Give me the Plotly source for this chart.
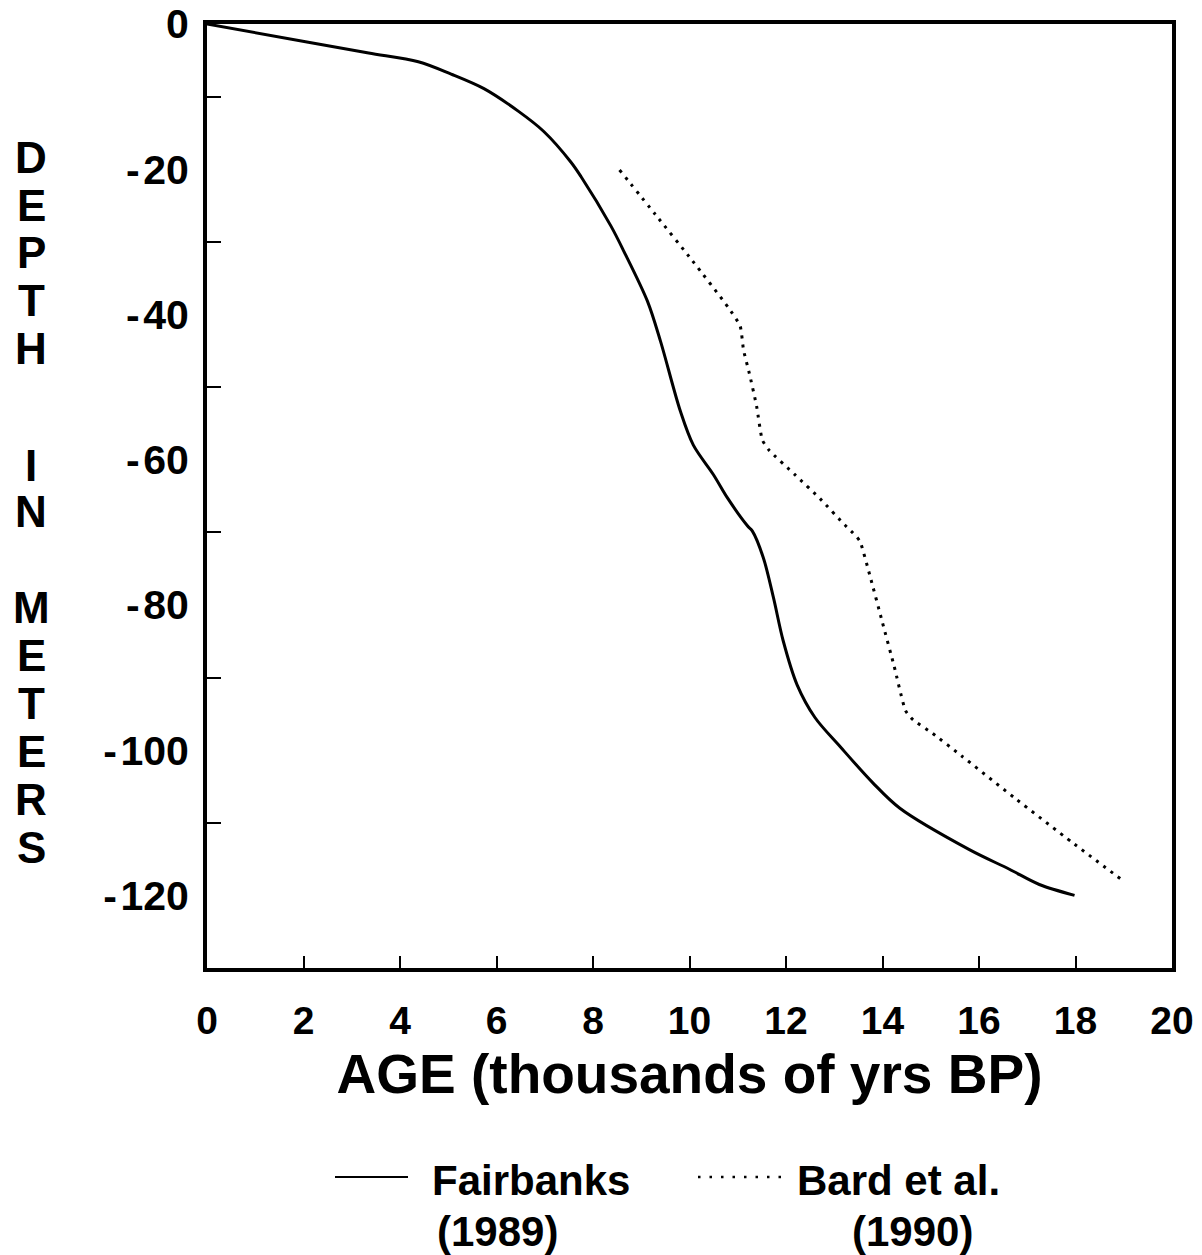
import plotly.graph_objects as go

# ---- data ----
fair_age = [0, 2.1, 3.35, 4.38, 5.06, 5.74, 6.45, 6.98, 7.54, 7.75, 8.37, 8.64, 9.13, 9.40,
            9.81, 10.08, 10.50, 10.79, 11.20, 11.30, 11.53, 11.74, 11.94, 12.23, 12.6,
            13.12, 13.8, 14.36, 15.8, 16.63, 17.25, 17.98]
fair_depth = [0, -2.5, -4.0, -5.2, -6.9, -8.9, -12.0, -14.8, -19.0, -21.0, -27.8, -31.3, -38.2,
              -43.7, -53.3, -58.0, -62.1, -65.3, -69.1, -69.8, -73.5, -79.0, -84.9, -91.0,
              -95.5, -99.5, -104.5, -108.0, -113.7, -116.4, -118.5, -120.0]

bard_age = [8.55, 9.3, 10.06, 10.8, 11.05, 11.12, 11.24, 11.39, 11.51, 11.65, 12.19, 12.71,
            13.22, 13.39, 13.53, 13.74, 13.99, 14.24, 14.48, 14.63, 15.04, 15.64, 16.78,
            17.93, 18.95]
bard_depth = [-20.1, -26.3, -32.6, -39.0, -41.6, -44.9, -48.1, -52.6, -57.3, -58.7, -62.1,
              -65.4, -69.0, -70.1, -71.2, -76.0, -82.2, -88.4, -94.6, -95.8, -97.7, -100.8,
              -106.8, -112.7, -117.8]

x_ticks = [0, 2, 4, 6, 8, 10, 12, 14, 16, 18, 20]
y_label_vals = [0, -20, -40, -60, -80, -100, -120]
y_label_text = ["0", "-\u200a20", "-\u200a40", "-\u200a60", "-\u200a80", "-\u200a100", "-\u200a120"]
y_minor_vals = [-10, -30, -50, -70, -90, -110]

x_title = "AGE (thousands of yrs BP)"
y_title_letters = ["D", "E", "P", "T", "H", "I", "N", "M", "E", "T", "E", "R", "S"]
legend_names = [("Fairbanks", "(1989)"), ("Bard et al.", "(1990)")]

FONT = "Liberation Sans"
W, H = 1202, 1255
L, R, T, B = 207, 30, 24, 287
PW, PH = W - L - R, H - T - B


def px_x(px):
    return (px - L) / PW


def px_y(py):
    return (H - B - py) / PH


fig = go.Figure()
fig.add_trace(go.Scatter(x=fair_age, y=fair_depth, mode="lines",
                         line=dict(color="black", width=3, shape="spline", smoothing=0.9),
                         showlegend=False, hoverinfo="skip"))
fig.add_trace(go.Scatter(x=bard_age, y=bard_depth, mode="lines",
                         line=dict(color="black", width=3, dash="3px,6px",
                                   shape="spline", smoothing=0.5),
                         showlegend=False, hoverinfo="skip"))

fig.update_layout(
    width=W, height=H,
    margin=dict(l=L, r=R, t=T, b=B, autoexpand=False),
    paper_bgcolor="white", plot_bgcolor="white",
    font=dict(family=FONT, color="black"),
    showlegend=False,
    xaxis=dict(
        range=[0, 20], tickvals=x_ticks, ticktext=[str(v) for v in x_ticks],
        ticks="inside", ticklen=12, tickwidth=2, tickcolor="black",
        showline=True, linewidth=4, linecolor="black", mirror=True,
        showgrid=False, zeroline=False, automargin=False,
        tickfont=dict(family=FONT, size=39, weight="bold"),
        ticklabelstandoff=15, ticklabeloverflow="allow",
        title=dict(text=x_title, font=dict(family=FONT, size=55, weight="bold"), standoff=15),
    ),
    yaxis=dict(
        range=[-130, 0], tickvals=y_label_vals, ticktext=y_label_text,
        ticks="", showline=True, linewidth=4, linecolor="black", mirror=True,
        showgrid=False, zeroline=False, automargin=False,
        tickfont=dict(family=FONT, size=41, weight="bold"),
        ticklabelstandoff=6, ticklabeloverflow="allow",
        minor=dict(tickvals=y_minor_vals, ticks="inside", ticklen=14, tickwidth=1.5,
                   tickcolor="black", showgrid=False),
    ),
)

# vertical stacked y-axis title
letter_y = [158, 205, 252, 300, 348, 465, 512, 607, 655, 703, 751, 799, 847]
for ch, py in zip(y_title_letters, letter_y):
    fig.add_annotation(text=ch, xref="paper", yref="paper", x=px_x(31), y=px_y(py),
                       xanchor="center", yanchor="middle", showarrow=False,
                       font=dict(family=FONT, size=44, weight="bold"))

# legend
fig.add_shape(type="line", xref="paper", yref="paper",
              x0=px_x(335), x1=px_x(408), y0=px_y(1177), y1=px_y(1177),
              line=dict(color="black", width=2))
fig.add_shape(type="line", xref="paper", yref="paper",
              x0=px_x(698), x1=px_x(782), y0=px_y(1177), y1=px_y(1177),
              line=dict(color="black", width=2.5, dash="2.5px,9px"))
legend_pos = [((430, 1180), (497, 1231)), ((795, 1180), (912, 1231))]
for (n1, n2), ((x1, y1), (x2, y2)) in zip(legend_names, legend_pos):
    fig.add_annotation(text=n1, xref="paper", yref="paper", x=px_x(x1), y=px_y(y1),
                       xanchor="left", yanchor="middle", showarrow=False,
                       font=dict(family=FONT, size=42, weight="bold"))
    fig.add_annotation(text=n2, xref="paper", yref="paper", x=px_x(x2), y=px_y(y2),
                       xanchor="center", yanchor="middle", showarrow=False,
                       font=dict(family=FONT, size=42, weight="bold"))

fig.write_html(
    "out.html",
    config={"displayModeBar": False},
    post_script="document.body.style.margin='0';document.body.style.overflow='hidden';",
)
